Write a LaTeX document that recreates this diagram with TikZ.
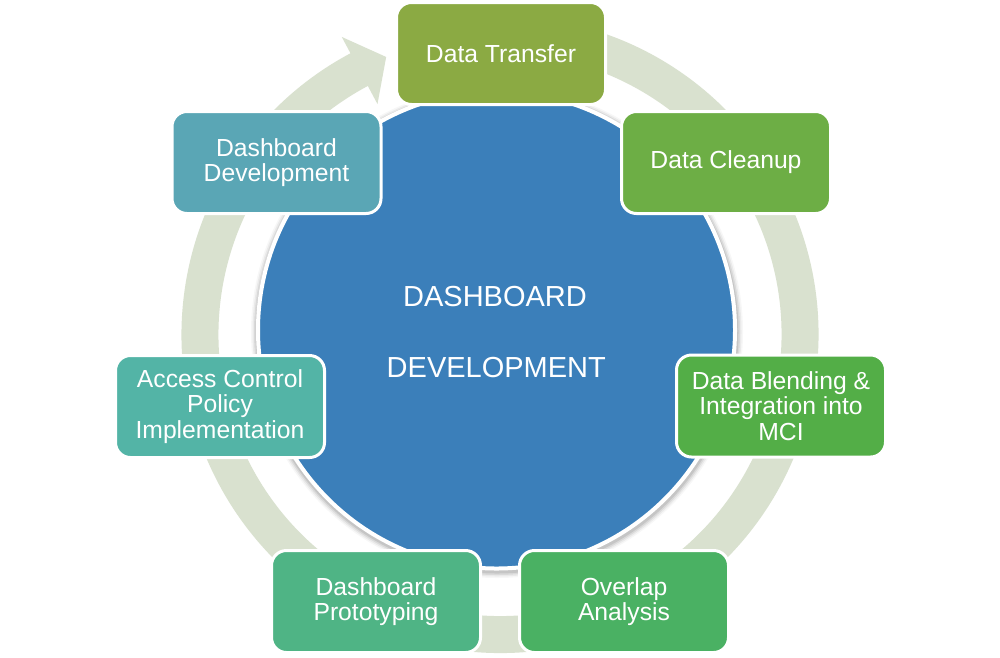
\documentclass[tikz,border=0pt]{standalone}
\usepackage{fontspec}
\setmainfont{Liberation Sans}
\definecolor{ringc}{HTML}{D9E1CF}
\definecolor{circc}{HTML}{3B7FBA}
\definecolor{cA}{HTML}{8BAA43}
\definecolor{cB}{HTML}{6DAE45}
\definecolor{cC}{HTML}{53AE47}
\definecolor{cD}{HTML}{4AB163}
\definecolor{cE}{HTML}{4FB485}
\definecolor{cF}{HTML}{53B4A6}
\definecolor{cG}{HTML}{5AA6B5}
\begin{document}
\begin{tikzpicture}[x=1pt,y=1pt,
  stepbox/.style={draw=white, line width=3pt, rounded corners=15pt,
    minimum width=209pt, minimum height=102pt, align=center, text=white,
    font=\fontsize{24.7}{25.5}\selectfont, inner sep=2pt},
  hubtext/.style={text=white, font=\fontsize{29}{33}\selectfont, anchor=base, inner sep=0pt}]
\useasboundingbox (0,0) rectangle (1000,-657);
\fill[white] (0,0) rectangle (1000,-657);
% circular arrow ring
\fill[ringc, shift={(500,-334.5)}]
  (80:318.5pt) arc[start angle=80, end angle=-242, radius=318.5pt]
  -- (118:337pt) -- (112.3:300pt) -- (118:261pt) -- (118:281.5pt)
  arc[start angle=-242, end angle=80, radius=281.5pt] -- cycle;
% soft shadow of the hub
\foreach \r/\o in {246/0.03, 244.5/0.05, 243/0.07, 241.5/0.09}
  \fill[black, opacity=\o] (497,-332) circle[radius=\r pt];
% hub circle
\node[circle, fill=circc, draw=white, line width=4pt, minimum size=477pt, inner sep=0pt] (hub) at (496.5,-330) {};
\node[hubtext] (hubA) at (495,-306) {DASHBOARD};
\node[hubtext] (hubB) at (496.3,-377) {DEVELOPMENT};
% steps
\node[stepbox, fill=cA] (b1) at (501,-53.5) {Data Transfer};
\node[stepbox, fill=cB] (b2) at (726,-162.5) {Data Cleanup};
\node[stepbox, fill=cC] (b3) at (781,-406) {Data Blending \&\\Integration into\\MCI};
\node[stepbox, fill=cD] (b4) at (624,-601.5) {Overlap\\Analysis};
\node[stepbox, fill=cE] (b5) at (376,-601.5) {Dashboard\\Prototyping};
\node[stepbox, fill=cF] (b6) at (220,-406.5) {Access Control\\Policy\\Implementation};
\node[stepbox, fill=cG] (b7) at (276.5,-162.5) {Dashboard\\Development};
\end{tikzpicture}
\end{document}
